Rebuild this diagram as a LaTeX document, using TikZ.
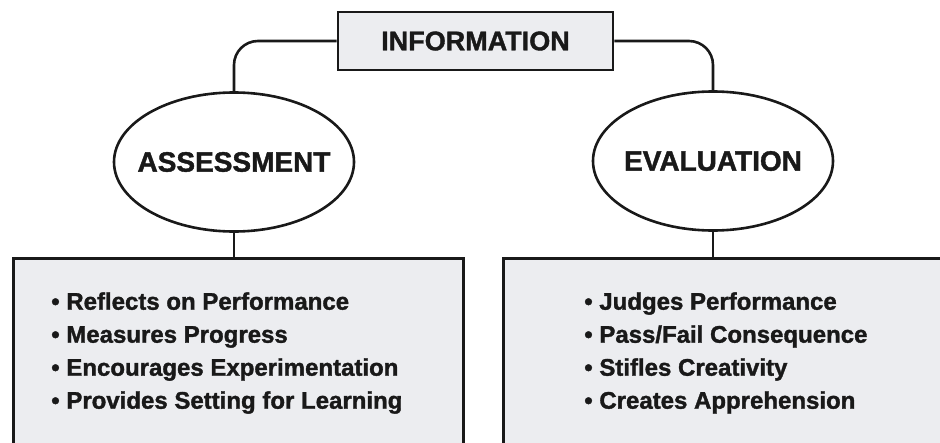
\documentclass[tikz,border=0pt]{standalone}
\usepackage{fontspec}
\setmainfont{Liberation Sans}[BoldFeatures={FakeBold=1.4}]
\usetikzlibrary{shapes.geometric}
\definecolor{boxgray}{RGB}{236,237,240}
\definecolor{ink}{RGB}{25,25,25}

\begin{document}
\begin{tikzpicture}[x=1pt, y=-1pt, line width=2.6pt, color=ink,
    tnode/.style={draw, fill=boxgray, minimum width=275pt, minimum height=58pt, font=\fontsize{27}{30}\selectfont\bfseries},
    onode/.style={draw, fill=white, ellipse, minimum width=240pt, minimum height=139pt, inner xsep=-13pt, inner ysep=0pt, font=\fontsize{28}{30}\selectfont\bfseries},
    bnode/.style={draw, fill=boxgray, anchor=north west, minimum width=450pt, minimum height=230pt},
    lnode/.style={anchor=north west, align=left, inner sep=0pt, font=\fontsize{24}{33}\selectfont\bfseries}]
    \useasboundingbox (0,0) rectangle (940,442);
    \clip (0,0) rectangle (940,442);

    \node[tnode] (info) at (475.5,41) {INFORMATION};
    \node[onode] (assess) at (234,162) {ASSESSMENT};
    \node[onode] (eval) at (713,161) {EVALUATION};
    \node[bnode] (abox) at (12,257) {};
    \node[bnode] (ebox) at (502,257) {};
    \node[lnode] (alist) at (50,291) {• Reflects on Performance\\• Measures Progress\\• Encourages Experimentation\\• Provides Setting for Learning};
    \node[lnode] (elist) at (583,291) {• Judges Performance\\• Pass/Fail Consequence\\• Stifles Creativity\\• Creates Apprehension};

    \draw[rounded corners=24pt] (info.west) -| (assess.north);
    \draw[rounded corners=24pt] (info.east) -| (eval.north);
    \draw (assess.south) -- (assess.south |- abox.north);
    \draw (eval.south) -- (eval.south |- ebox.north);
\end{tikzpicture}
\end{document}
